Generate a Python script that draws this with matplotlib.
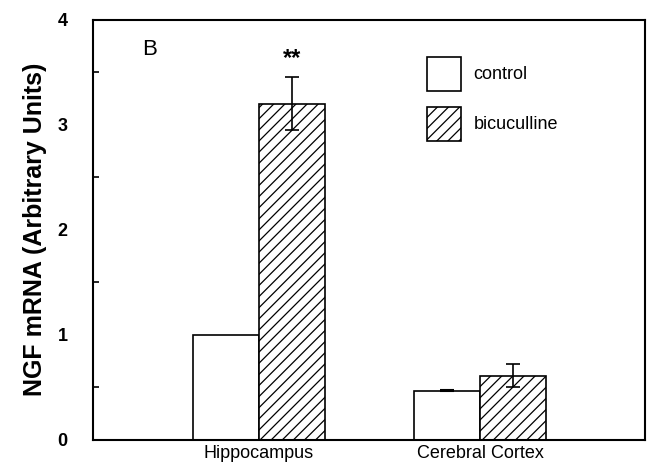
import matplotlib
matplotlib.use("Agg")
import matplotlib.pyplot as plt
import numpy as np

categories = ["Hippocampus", "Cerebral Cortex"]
control = [1.0, 0.47]
control_err = [0.0, 0.005]
bicuculline = [3.2, 0.61]
bicuculline_err = [0.25, 0.11]
series_names = ["control", "bicuculline"]
yticks = [0, 1, 2, 3, 4]

plt.rcParams['font.family'] = ['Liberation Sans', 'DejaVu Sans']
plt.rcParams['hatch.linewidth'] = 0.9

fig = plt.figure(figsize=(6.49, 4.69), dpi=100)
ax = fig.add_axes([0.143, 0.062, 0.851, 0.896])

x = np.arange(len(categories))
w = 0.3
b1 = ax.bar(x - w/2, control, w, color='white', edgecolor='black', linewidth=1.2,
            label=series_names[0])
b2 = ax.bar(x + w/2, bicuculline, w, color='white', edgecolor='black', linewidth=1.2,
            hatch='///', label=series_names[1])
ax.errorbar(x + w/2, bicuculline, yerr=bicuculline_err, fmt='none', ecolor='black',
            elinewidth=1.2, capsize=5, capthick=1.2)
ax.errorbar(x[1:] - w/2, control[1:], yerr=control_err[1:], fmt='none', ecolor='black',
            elinewidth=1.2, capsize=5, capthick=1.5)

ax.text(x[0] + w/2, bicuculline[0] + bicuculline_err[0] + 0.07, "**", ha='center',
        va='bottom', fontsize=17, fontweight='bold')
ax.text(0.09, 0.93, "B", transform=ax.transAxes, fontsize=16, ha='left', va='center')

ax.set_xlim(-0.751, 1.747)
ax.set_ylim(0, 4)
ax.set_yticks(yticks)
ax.set_yticks(np.arange(0.5, 4, 1.0), minor=True)
ax.set_yticklabels([str(t) for t in yticks], fontsize=13, fontweight='bold')
ax.tick_params(axis='y', which='major', direction='in', length=0, pad=18)
ax.tick_params(axis='y', which='minor', direction='in', length=4, width=1.2)
ax.set_xticks(x)
ax.set_xticklabels(categories, fontsize=13)
ax.tick_params(axis='x', length=0, pad=4)
for s in ax.spines.values():
    s.set_linewidth(1.5)

ax.set_ylabel("NGF mRNA (Arbitrary Units)", fontsize=18, fontweight='bold', labelpad=8)

ax.legend(handles=[b1, b2], loc='upper left', bbox_to_anchor=(0.575, 0.95), frameon=False,
          handlelength=1.9, handleheight=2.5, fontsize=13, labelspacing=0.9,
          handletextpad=0.7)

fig.savefig("out.png", dpi=100)
